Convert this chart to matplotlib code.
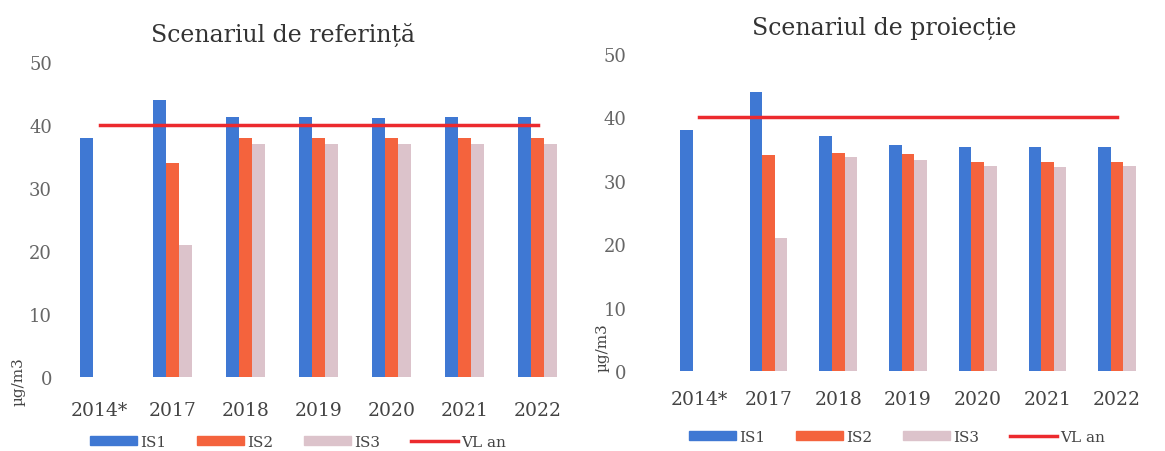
import numpy as np
import matplotlib
matplotlib.use("Agg")
import matplotlib.pyplot as plt
from matplotlib.patches import Patch
from matplotlib.lines import Line2D

categories = ["2014*", "2017", "2018", "2019", "2020", "2021", "2022"]
series_names = ["IS1", "IS2", "IS3", "VL an"]

ref_is1 = [38, 44, 41.2, 41.2, 41.1, 41.2, 41.2]
ref_is2 = [np.nan, 34, 38, 38, 38, 38, 38]
ref_is3 = [np.nan, 21, 37, 37, 37, 37, 37]

proj_is1 = [38, 44, 37, 35.6, 35.3, 35.3, 35.3]
proj_is2 = [np.nan, 34, 34.4, 34.2, 33, 33, 33]
proj_is3 = [np.nan, 21, 33.7, 33.3, 32.3, 32.2, 32.3]

vl_an = [40, 40, 40, 40, 40, 40, 40]

titles = ["Scenariul de referință", "Scenariul de proiecție"]
ylabel = "µg/m3"
yticks = [0, 10, 20, 30, 40, 50]

colors = ["#3f78d3", "#f4633d", "#dcc3cb", "#ec2a2e"]

plt.rcParams['font.family'] = ['DejaVu Serif', 'Liberation Serif']

fig = plt.figure(figsize=(11.65, 4.52), dpi=100)
W, H = 1165, 452

def make_ax(l, r, t, b):
    return fig.add_axes([l / W, 1 - b / H, (r - l) / W, (b - t) / H])

axes = [make_ax(63, 574, 63, 378), make_ax(664, 1152, 55, 372)]
data = [(ref_is1, ref_is2, ref_is3), (proj_is1, proj_is2, proj_is3)]
ypads = [8, 27]
xpads = [17, 14]
title_pos = [(283, 35), (884, 28)]
legend_pos = [(298, 443), (897, 438)]
ylabel_pos = [(19, 382), (603, 348)]

x = np.arange(len(categories))
w = 0.18
for i, ax in enumerate(axes):
    s1, s2, s3 = data[i]
    ax.bar(x - w, s1, w, color=colors[0])
    ax.bar(x, s2, w, color=colors[1])
    ax.bar(x + w, s3, w, color=colors[2])
    ax.plot(x, vl_an, color=colors[3], lw=2.5)
    ax.set_xlim(-0.5, len(categories) - 0.5)
    ax.set_ylim(0, 50)
    ax.set_yticks(yticks)
    ax.set_xticks(x)
    ax.set_xticklabels(categories)
    for sp in ax.spines.values():
        sp.set_visible(False)
    ax.tick_params(axis='y', length=0, pad=ypads[i], labelsize=13, labelcolor="#666666")
    ax.tick_params(axis='x', length=0, pad=xpads[i], labelsize=13.5, labelcolor="#444444")
    fig.text(title_pos[i][0] / W, 1 - title_pos[i][1] / H, titles[i], fontsize=17,
             color="#333333", ha="center", va="center")
    handles = [Patch(color=colors[0]), Patch(color=colors[1]), Patch(color=colors[2]),
               Line2D([], [], color=colors[3], lw=2.5)]
    lx, ly = legend_pos[i]
    ax.legend(handles, series_names, loc="center",
              bbox_to_anchor=(lx / W, 1 - ly / H), bbox_transform=fig.transFigure,
              ncol=4, frameon=False, fontsize=11, handlelength=3.1, handleheight=0.55,
              columnspacing=2.0, handletextpad=0.2, labelcolor="#444444",
              borderpad=0, borderaxespad=0)
    fig.text(ylabel_pos[i][0] / W, 1 - ylabel_pos[i][1] / H, ylabel, rotation=90,
             fontsize=11, color="#444444", ha="center", va="center")

fig.savefig("out.png", dpi=100)
